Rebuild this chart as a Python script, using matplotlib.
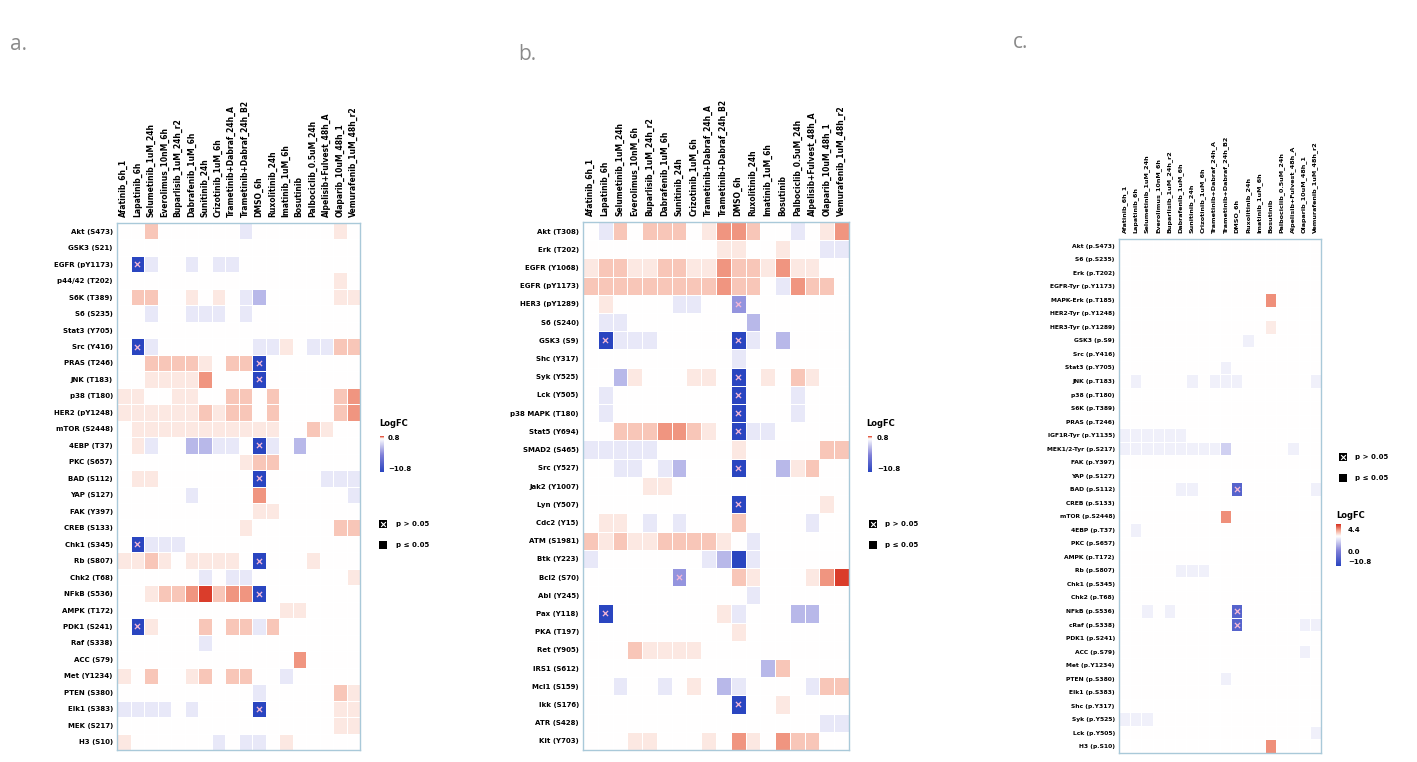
"""
Three LogFC heatmaps (panels a, b, c) of phospho-protein responses to
drug treatments, with p-value markers and small colour legends.
"""

import numpy as np
import matplotlib
matplotlib.use("Agg")
import matplotlib.pyplot as plt
from matplotlib.colors import LinearSegmentedColormap, TwoSlopeNorm
from matplotlib.patches import Rectangle

W, H = 1417, 762

# ---------------------------------------------------------------------------
# Data. Each cell is one character:
#   '.' ~ 0, r/R/D/E = light -> strong up, b/B = light/medium down,
#   x/X = down with p-marker, Z = strong down without marker
# ---------------------------------------------------------------------------
COLUMNS = [
    "Afatinib_6h_1", "Lapatinib_6h", "Selumetinib_1uM_24h",
    "Everolimus_10nM_6h", "Buparlisib_1uM_24h_r2", "Dabrafenib_1uM_6h",
    "Sunitinib_24h", "Crizotinib_1uM_6h", "Trametinib+Dabraf_24h_A",
    "Trametinib+Dabraf_24h_B2", "DMSO_6h", "Ruxolitinib_24h",
    "Imatinib_1uM_6h", "Bosutinib", "Palbociclib_0.5uM_24h",
    "Alpelisib+Fulvest_48h_A", "Olaparib_10uM_48h_1",
    "Vemurafenib_1uM_48h_r2",
]

A_ROWS = [
    "Akt (S473)", "GSK3 (S21)", "EGFR (pY1173)", "p44/42 (T202)",
    "S6K (T389)", "S6 (S235)", "Stat3 (Y705)", "Src (Y416)",
    "PRAS (T246)", "JNK (T183)", "p38 (T180)", "HER2 (pY1248)",
    "mTOR (S2448)", "4EBP (T37)", "PKC (S657)", "BAD (S112)",
    "YAP (S127)", "FAK (Y397)", "CREB (S133)", "Chk1 (S345)",
    "Rb (S807)", "Chk2 (T68)", "NFkB (S536)", "AMPK (T172)",
    "PDK1 (S241)", "Raf (S338)", "ACC (S79)", "Met (Y1234)",
    "PTEN (S380)", "Elk1 (S383)", "MEK (S217)", "H3 (S10)",
]
A_CELLS = [
    "..R......b......r.",
    "..................",
    ".Xb..b.bb.........",
    "................r.",
    ".RR..r.r.bB.....rr",
    "..b..bbb.b........",
    "..................",
    ".Xb.......bbr.bbRR",
    "..RRRRr.RRX.......",
    "..rrrrD...X.......",
    "rr..rr..RR.R....RD",
    "rrrrrrRrRR.R....RD",
    ".rrrrrrrrrrr..Rr..",
    ".rb..BBbb.Xb.B....",
    ".........rRR......",
    ".rr.......X....bbb",
    ".....b....D......b",
    "..........rr......",
    ".........r......RR",
    ".Xbbb.............",
    "rrRr.rrrr.X...r...",
    "......b.bb.......r",
    "..rRRDERDDX.......",
    "............rr....",
    ".Xr...R.RRbR......",
    "......b...........",
    ".............D....",
    "r.R..rR.RR..b.....",
    "..........b.....Rr",
    "bbbb.b....X.....rr",
    "................rr",
    "r......b.bb.r.....",
]

B_ROWS = [
    "Akt (T308)", "Erk (T202)", "EGFR (Y1068)", "EGFR (pY1173)",
    "HER3 (pY1289)", "S6 (S240)", "GSK3 (S9)", "Shc (Y317)",
    "Syk (Y525)", "Lck (Y505)", "p38 MAPK (T180)", "Stat5 (Y694)",
    "SMAD2 (S465)", "Src (Y527)", "Jak2 (Y1007)", "Lyn (Y507)",
    "Cdc2 (Y15)", "ATM (S1981)", "Btk (Y223)", "Bcl2 (S70)",
    "Abl (Y245)", "Pax (Y118)", "PKA (T197)", "Ret (Y905)",
    "IRS1 (S612)", "Mcl1 (S159)", "Ikk (S176)", "ATR (S428)",
    "Kit (Y703)",
]
B_CELLS = [
    ".bR.RRR.rDDR..b.rD",
    ".........rr..r..bb",
    "rRRrrRRrrDRRrDrr..",
    "RRRRRRRRRDRR.bDRR.",
    ".r....bb..x.......",
    ".bb........B......",
    ".Xbbb.....Xb.B....",
    "..........b.......",
    "..Br...rr.X.r.Rr..",
    ".b........X...b...",
    ".b........X...b...",
    "..RRRDDRr.Xbb.....",
    "bbbbb.....r.....RR",
    "..bb.bB...X..BrR..",
    "....rr............",
    "..........X.....r.",
    ".rr.b.b...R....b..",
    "RrRrrRRRRr.b......",
    "b.......bBZb......",
    "......x...Rr...rDE",
    "...........b......",
    ".X.......rb...BB..",
    "..........r.......",
    "...Rrrrr..........",
    "............BR....",
    "..b..b.r.Bb....bRR",
    "..........X..r....",
    "................bb",
    "...rr...r.Dr.DRR..",
]

C_ROWS = [
    "Akt (p.S473)", "S6 (p.S235)", "Erk (p.T202)", "EGFR-Tyr (p.Y1173)",
    "MAPK-Erk (p.T185)", "HER2-Tyr (p.Y1248)", "HER3-Tyr (p.Y1289)",
    "GSK3 (p.S9)", "Src (p.Y416)", "Stat3 (p.Y705)", "JNK (p.T183)",
    "p38 (p.T180)", "S6K (p.T389)", "PRAS (p.T246)", "IGF1R-Tyr (p.Y1135)",
    "MEK1/2-Tyr (p.S217)", "FAK (p.Y397)", "YAP (p.S127)", "BAD (p.S112)",
    "CREB (p.S133)", "mTOR (p.S2448)", "4EBP (p.T37)", "PKC (p.S657)",
    "AMPK (p.T172)", "Rb (p.S807)", "Chk1 (p.S345)", "Chk2 (p.T68)",
    "NFkB (p.S536)", "cRaf (p.S338)", "PDK1 (p.S241)", "ACC (p.S79)",
    "Met (p.Y1234)", "PTEN (p.S380)", "Elk1 (p.S383)", "Shc (p.Y317)",
    "Syk (p.Y525)", "Lck (p.Y505)", "H3 (p.S10)",
]
C_CELLS = [
    "..................",
    "..................",
    "..................",
    "..................",
    ".............D....",
    "..................",
    ".............r....",
    "...........b......",
    "..................",
    ".........b........",
    ".b....b.bbb......b",
    "..................",
    "..................",
    "..................",
    "bbbbbb............",
    "bbbbbbbbbB.....b..",
    "..................",
    "..................",
    ".....bb...X......b",
    "..................",
    ".........D........",
    ".b................",
    "..................",
    "..................",
    ".....bbb..........",
    "..................",
    "..................",
    "..b.b.....X.......",
    "..........X.....bb",
    "..................",
    "................b.",
    "..................",
    ".........b........",
    "..................",
    "..................",
    "bbb...............",
    ".................b",
    ".............D....",
]

# LogFC value for each cell code
LEVELS_AB = {".": 0.0, "r": 0.1, "R": 0.25, "D": 0.45, "E": 0.75,
             "b": -1.0, "B": -3.0, "x": -4.5, "X": -10.8, "Z": -10.8}
LEVELS_C = {".": 0.0, "r": 0.5, "R": 1.4, "D": 2.6,
            "b": -0.6, "B": -2.0, "X": -8.0}
MARKED = {"x", "X"}

CMAP = LinearSegmentedColormap.from_list(
    "logfc", ["#2a45c0", "#7f7fd8", "#ffffff", "#f4a58f", "#d7301f"])
LABEL_GREY = "#8a8a8a"
FRAME = "#a9c9d9"


def px_rect(left, top, right, bottom):
    """Pixel box (origin top-left) -> figure fraction rect."""
    return [left / W, 1 - bottom / H, (right - left) / W, (bottom - top) / H]


def decode(cells, levels):
    vals = np.array([[levels[ch] for ch in row] for row in cells], dtype=float)
    marks = [(j, i) for i, row in enumerate(cells)
             for j, ch in enumerate(row) if ch in MARKED]
    return vals, marks


def draw_heatmap(fig, box, cells, rows, levels, norm, fs_col, fs_row):
    ax = fig.add_axes(px_rect(*box))
    vals, marks = decode(cells, levels)
    ax.pcolormesh(vals, cmap=CMAP, norm=norm, edgecolors="white", linewidth=0.5)
    if marks:
        mx, my = zip(*marks)
        ax.scatter(np.array(mx) + 0.5, np.array(my) + 0.5, marker="x",
                   s=14, c="#f6b8d6", linewidths=0.9, zorder=3)
    ax.set_xlim(0, vals.shape[1])
    ax.set_ylim(vals.shape[0], 0)
    ax.xaxis.tick_top()
    ax.set_xticks(np.arange(len(COLUMNS)) + 0.5)
    ax.set_xticklabels(COLUMNS, rotation=90, fontsize=fs_col, fontweight="bold")
    ax.set_yticks(np.arange(len(rows)) + 0.5)
    ax.set_yticklabels(rows, fontsize=fs_row, fontweight="bold")
    ax.tick_params(axis="x", length=0, pad=4)
    ax.tick_params(axis="y", length=0, pad=3)
    for s in ax.spines.values():
        s.set_color(FRAME)
        s.set_linewidth(1.0)
    return ax


def draw_colorbar(ov, x, top, bottom, norm, vmin, vmax, width=4):
    grad = np.linspace(vmax, vmin, 200)[:, None]
    ov.imshow(grad, cmap=CMAP, norm=norm, aspect="auto",
              extent=(x, x + width, bottom, top), interpolation="bilinear")


def draw_p_legend(ov, x, y1, y2, tx):
    size = 8
    for y in (y1, y2):
        ov.add_patch(Rectangle((x - size / 2, y - size / 2), size, size,
                               color="black", lw=0))
    ov.scatter([x], [y1], marker="x", s=12, c="white", linewidths=0.8, zorder=3)
    ov.text(tx, y1, "p > 0.05", va="center", fontsize=5, fontweight="bold")
    ov.text(tx, y2, "p \u2264 0.05", va="center", fontsize=5, fontweight="bold")


def main():
    fig = plt.figure(figsize=(W / 100, H / 100), dpi=100)

    norm_ab = TwoSlopeNorm(vmin=-10.8, vcenter=0.0, vmax=0.8)
    norm_c = TwoSlopeNorm(vmin=-10.8, vcenter=0.0, vmax=4.4)

    # heatmaps, boxes in pixels (left, top, right, bottom)
    draw_heatmap(fig, (117, 223, 360, 750), A_CELLS, A_ROWS, LEVELS_AB, norm_ab, 5.5, 5)
    draw_heatmap(fig, (583, 222, 849, 750), B_CELLS, B_ROWS, LEVELS_AB, norm_ab, 5.5, 5)
    draw_heatmap(fig, (1119, 239, 1321, 753), C_CELLS, C_ROWS, LEVELS_C, norm_c, 4.6, 4.3)

    # overlay in pixel coordinates for letters and legends
    ov = fig.add_axes([0, 0, 1, 1])
    ov.patch.set_alpha(0)

    for x, y, s in [(10, 45, "a."), (518, 55, "b."), (1013, 42, "c.")]:
        ov.text(x, y, s, fontsize=15, color=LABEL_GREY, va="center",
                family="Open Sans")

    # panel a legend
    ov.text(379, 424, "LogFC", fontsize=6, fontweight="bold", va="center")
    draw_colorbar(ov, 380, 436, 472, norm_ab, -10.8, 0.8)
    ov.text(388, 438, "0.8", fontsize=5, fontweight="bold", va="center")
    ov.text(388, 469, "\u221210.8", fontsize=5, fontweight="bold", va="center")
    draw_p_legend(ov, 383, 524, 545, 396)

    # panel b legend
    ov.text(866, 424, "LogFC", fontsize=6, fontweight="bold", va="center")
    draw_colorbar(ov, 868, 436, 472, norm_ab, -10.8, 0.8)
    ov.text(877, 438, "0.8", fontsize=5, fontweight="bold", va="center")
    ov.text(877, 469, "\u221210.8", fontsize=5, fontweight="bold", va="center")
    draw_p_legend(ov, 873, 524, 545, 885)

    # panel c legend
    draw_p_legend(ov, 1343, 457, 478, 1355)
    ov.text(1336, 516, "LogFC", fontsize=6, fontweight="bold", va="center")
    draw_colorbar(ov, 1336, 524, 566, norm_c, -10.8, 4.4, width=5)
    ov.text(1348, 530, "4.4", fontsize=5, fontweight="bold", va="center")
    ov.text(1348, 552, "0.0", fontsize=5, fontweight="bold", va="center")
    ov.text(1348, 562, "\u221210.8", fontsize=5, fontweight="bold", va="center")

    ov.set_xlim(0, W)
    ov.set_ylim(H, 0)
    ov.axis("off")

    fig.savefig("out.png", dpi=100)
    plt.close(fig)


if __name__ == "__main__":
    main()
